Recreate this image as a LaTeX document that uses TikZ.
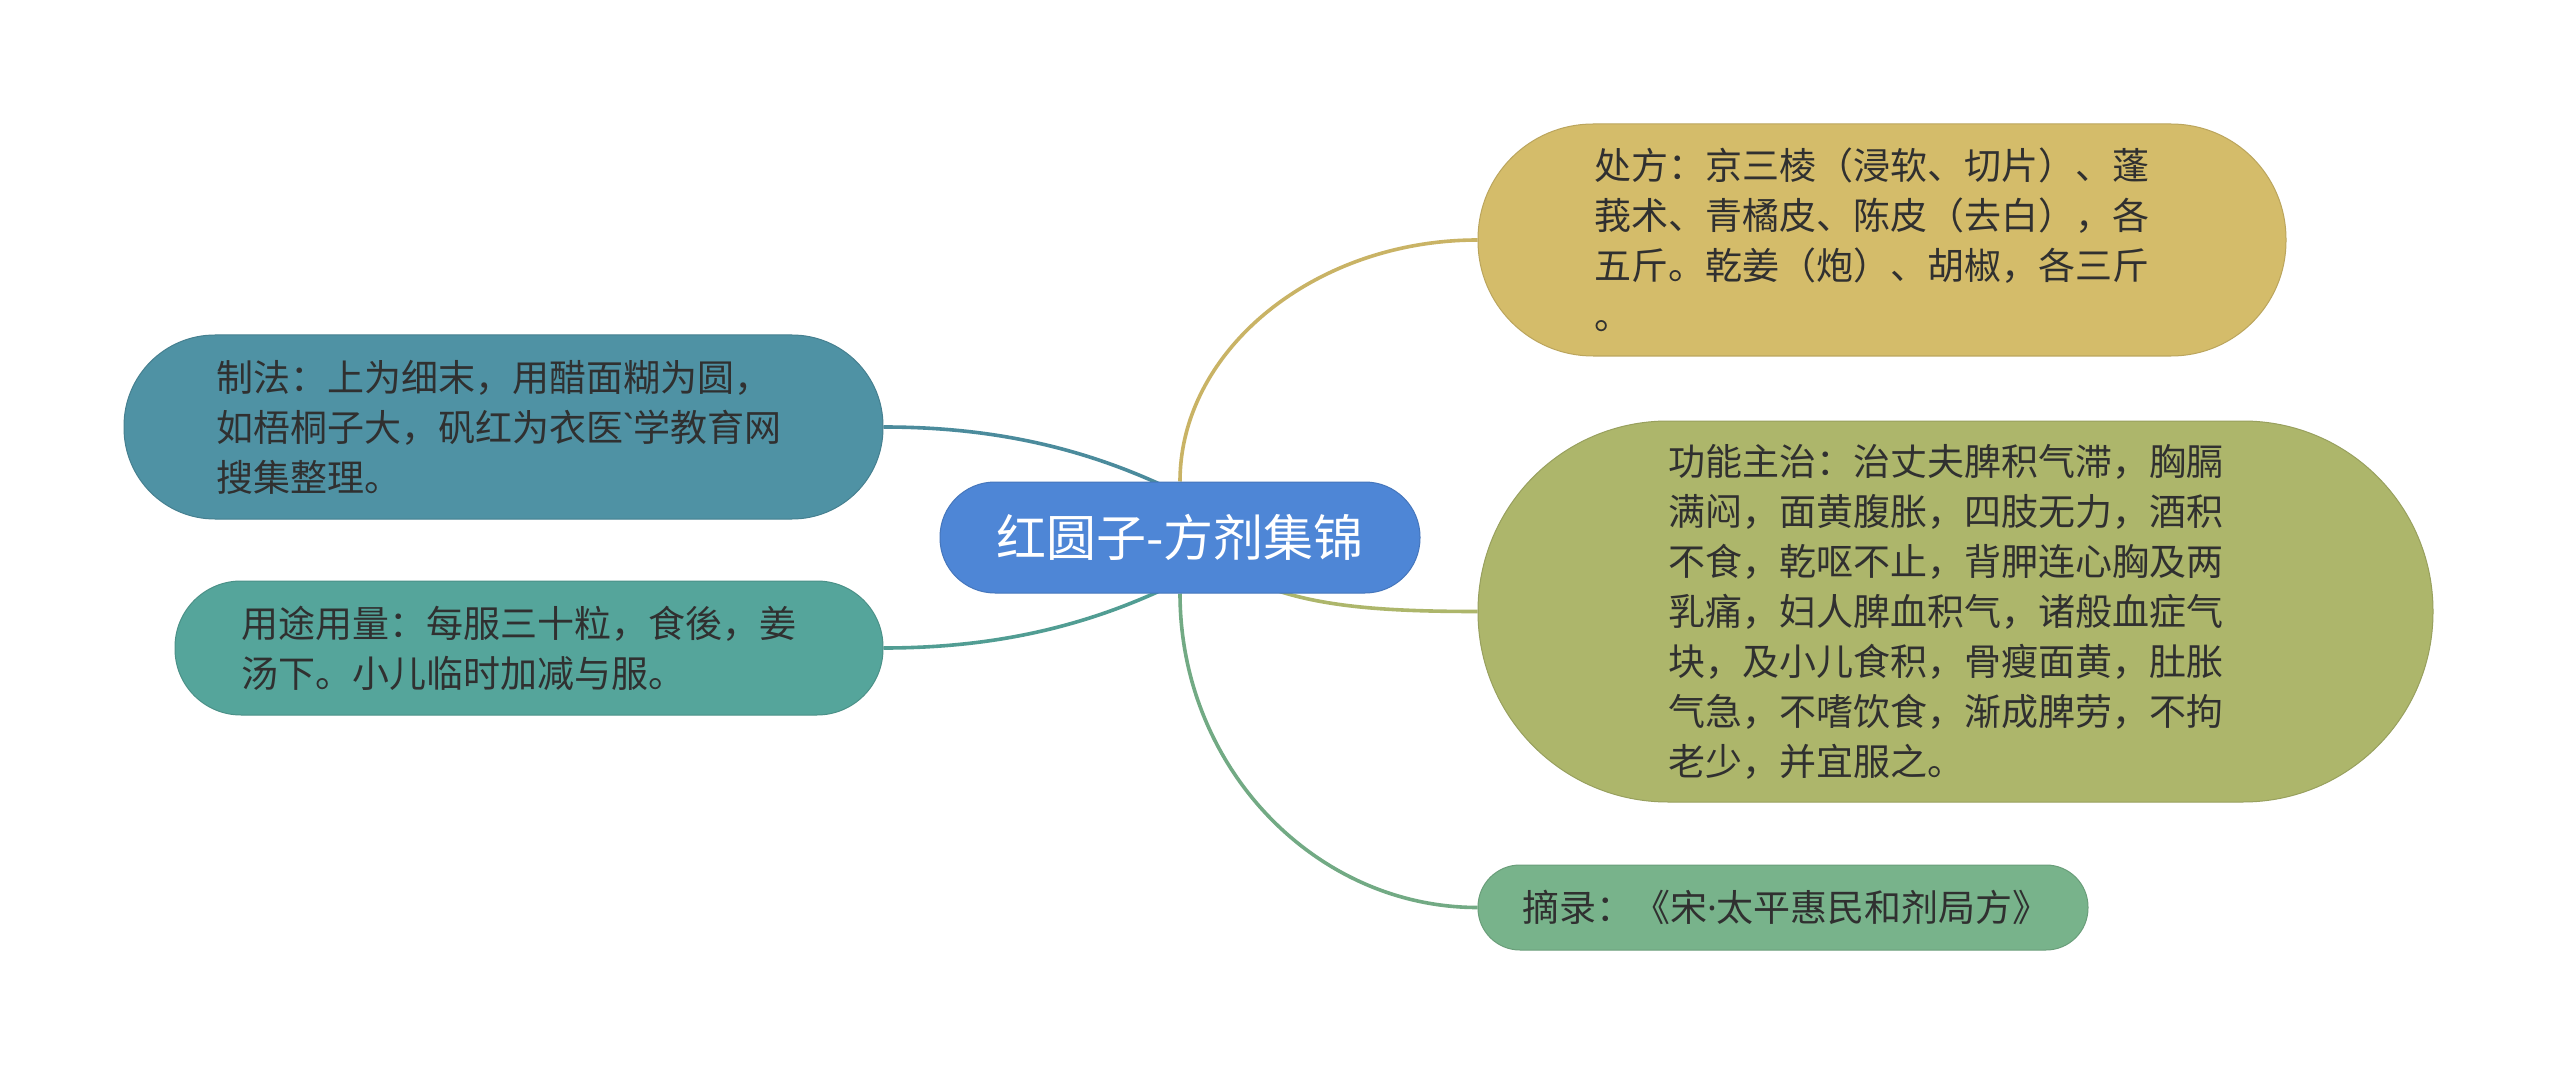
\documentclass[tikz,border=0pt]{standalone}
\usepackage{fontspec}
\setmainfont{Noto Sans CJK SC}
\newfontfamily\latinfont{Noto Sans}
\usetikzlibrary{backgrounds,calc}

\definecolor{rootblue}{HTML}{4E86D6}
\definecolor{fangyellow}{HTML}{D4BC6A}
\definecolor{zhiolive}{HTML}{ADB66B}
\definecolor{fateal}{HTML}{4F92A4}
\definecolor{tuteal}{HTML}{55A59B}
\definecolor{lugreen}{HTML}{78B38B}
\definecolor{inkgray}{HTML}{303030}

\def\TextW{575pt}
\def\LinkW{3.6pt}

\tikzset{
  leaf/.style={fill=#1, draw=#1!88!black, line width=1pt, text=inkgray,
    inner sep=0pt, text width=\TextW, align=left,
    font=\fontsize{37}{50}\selectfont},
  link/.style={draw=#1, line width=\LinkW},
}

\begin{document}
\begin{tikzpicture}[x=1pt,y=1pt]
  \useasboundingbox (0,0) rectangle (2560,-1075);

  % --- Nodo central ---
  \node[fill=rootblue, draw=rootblue!88!black, line width=1pt, text=white,
    rounded corners=55, minimum width=480, minimum height=111, inner sep=0pt,
    font=\fontsize{50}{60}\selectfont] (root) at (1180,-537.5) {红圆子-方剂集锦};

  % --- Ramas ---
  \node[leaf=fangyellow, rounded corners=115, minimum width=808, minimum height=232]
    (chufang) at (1882,-240) {处方：京三棱（浸软、切片）、蓬\\
    莪术、青橘皮、陈皮（去白），各\\
    五斤。乾姜（炮）、胡椒，各三斤\\
    。};
  \node[leaf=zhiolive, rounded corners=190, minimum width=955, minimum height=381]
    (gongneng) at (1955.5,-611.5) {功能主治：治丈夫脾积气滞，胸膈\\
    满闷，面黄腹胀，四肢无力，酒积\\
    不食，乾呕不止，背胛连心胸及两\\
    乳痛，妇人脾血积气，诸般血症气\\
    块，及小儿食积，骨瘦面黄，肚胀\\
    气急，不嗜饮食，渐成脾劳，不拘\\
    老少，并宜服之。};
  \node[leaf=fateal, rounded corners=91, minimum width=759, minimum height=184]
    (zhifa) at (503.5,-427) {制法：上为细末，用醋面糊为圆，\\
    如梧桐子大，矾红为衣医{\latinfont\textasciigrave}学教育网\\
    搜集整理。};
  \node[leaf=tuteal, rounded corners=66, minimum width=708, minimum height=134]
    (yongtu) at (529,-648) {用途用量：每服三十粒，食後，姜\\
    汤下。小儿临时加减与服。};
  \node[leaf=lugreen, text width=522pt, rounded corners=42, minimum width=610, minimum height=85]
    (zhailu) at (1783,-907.5) {摘录：《宋{\latinfont ·}太平惠民和剂局方》};

  % --- Conectores ---
  \begin{scope}[on background layer]
    \fill[white] (0,0) rectangle (2560,-1075);
    \draw[link=fangyellow!95!black] (root.north)
      to[out=90, in=180, out distance=132pt, in distance=162pt] (chufang.west);
    \draw[link=zhiolive] (root.center)
      to[out=-38, in=180, out distance=100pt, in distance=150pt] (gongneng.west);
    \draw[link=lugreen!95!black] (root.south)
      to[out=-90, in=180, out distance=174pt, in distance=162pt] (zhailu.west);
    \draw[link=fateal!95!black] (zhifa.east)
      to[out=0, in=155, out distance=100pt, in distance=100pt] ($(root.north)+(-15,-5)$);
    \draw[link=tuteal!95!black] (yongtu.east)
      to[out=0, in=-155, out distance=100pt, in distance=100pt] ($(root.south)+(-15,5)$);
  \end{scope}
\end{tikzpicture}
\end{document}
